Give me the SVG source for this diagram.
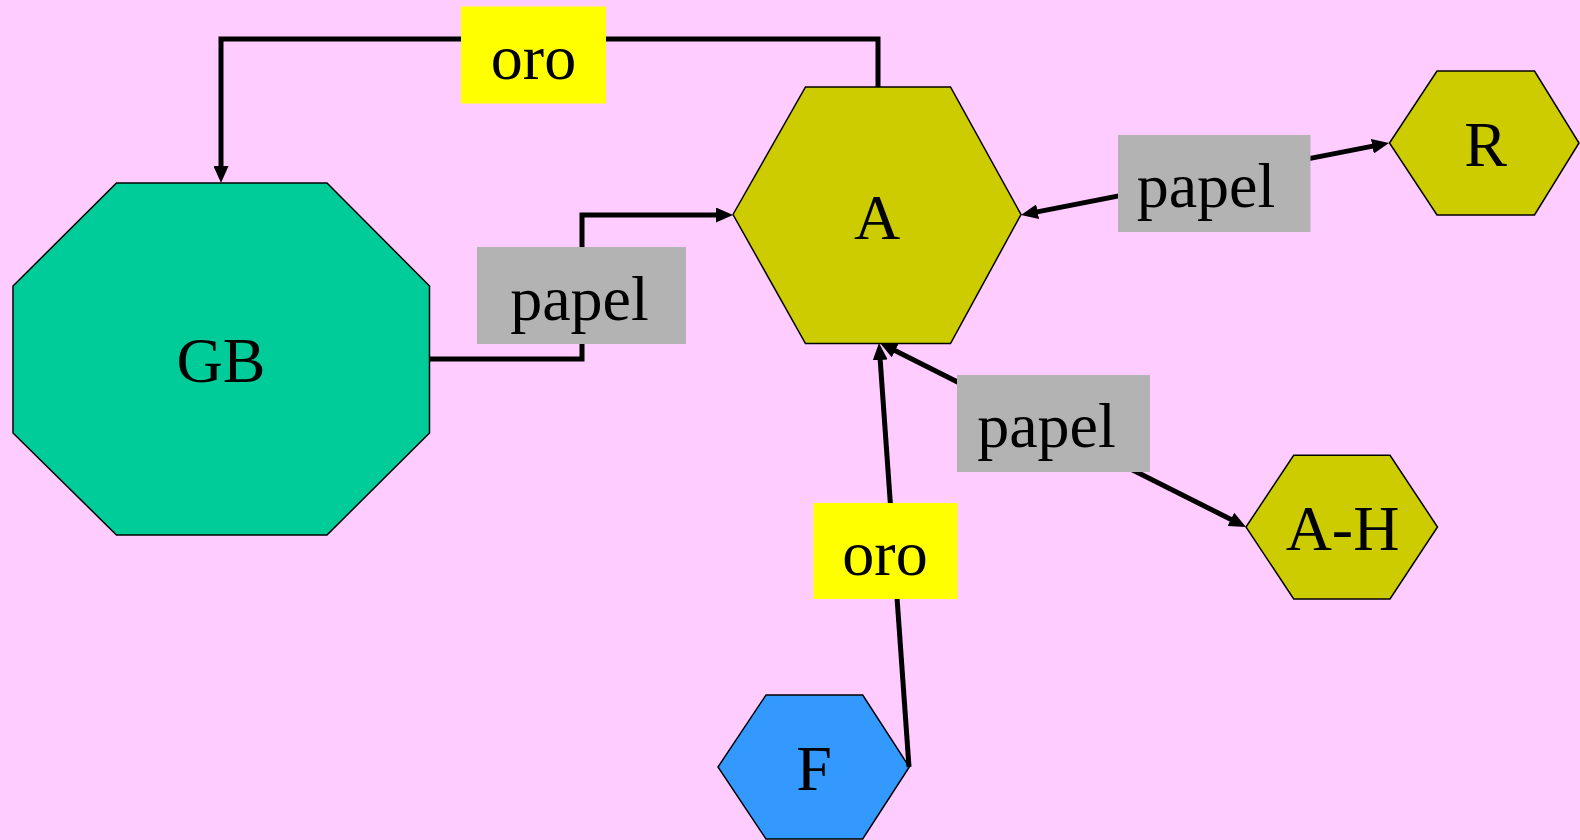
<svg xmlns="http://www.w3.org/2000/svg" width="1580" height="840" viewBox="0 0 1580 840">
  <style>
    .node { stroke: #000; stroke-width: 1.5; }
    .txt { font-family: "Liberation Serif", "Times New Roman", serif; font-size: 64px; fill: #000; text-anchor: middle; }
    .edge { fill: none; stroke: #000; stroke-width: 5; }
    .lbl-oro { fill: #FFFF00; }
    .lbl-papel { fill: #B3B3B3; }
  </style>
  <defs>
    <marker id="arrow" markerUnits="userSpaceOnUse" viewBox="0 0 17 15" markerWidth="17" markerHeight="15" refX="7" refY="7.5" orient="auto-start-reverse">
      <path d="M0,0 L17,7.5 L0,15 Z" fill="#000"/>
    </marker>
  </defs>

  <rect width="1580" height="840" fill="#FFCCFF"/>

  <!-- nodes -->
  <g id="node-GB">
    <polygon class="node" fill="#00CC99" points="116.5,183 327,183 429.5,286 429.5,433 327,535 116.5,535 13,433 13,286"/>
    <text class="txt" x="221" y="382">GB</text>
  </g>
  <g id="node-A">
    <polygon class="node" fill="#CCCC00" points="733,214.5 805.5,87 950.5,87 1021,214.5 950.5,343.5 805.5,343.5"/>
    <text class="txt" x="877" y="238.5">A</text>
  </g>
  <g id="node-R">
    <polygon class="node" fill="#CCCC00" points="1389.5,143 1437,71 1534.5,71 1579,143 1534.5,215 1437,215"/>
    <text class="txt" x="1485.5" y="166">R</text>
  </g>
  <g id="node-AH">
    <polygon class="node" fill="#CCCC00" points="1246,527 1293.7,455.3 1390,455.3 1437.5,527 1390,599 1293.7,599"/>
    <text class="txt" x="1342.5" y="550">A-H</text>
  </g>
  <g id="node-F">
    <polygon class="node" fill="#3399FF" points="718,767 766,695 862.7,695 909.3,767 862.7,839 766,839"/>
    <text class="txt" x="814" y="790">F</text>
  </g>

  <!-- connectors -->
  <g id="connectors">
    <path class="edge" d="M878,87 V39 H221 V173" marker-end="url(#arrow)"/>
    <path class="edge" d="M429.5,359 H582 V215 H723" marker-end="url(#arrow)"/>
    <path class="edge" d="M1030.8,213.1 L1379.2,144.9" marker-start="url(#arrow)" marker-end="url(#arrow)"/>
    <path class="edge" d="M888.9,347.5 L1237.1,522.5" marker-start="url(#arrow)" marker-end="url(#arrow)"/>
    <path class="edge" d="M909,767 L879.7,353" marker-end="url(#arrow)"/>
  </g>

  <!-- connector labels -->
  <g id="label-oro-top">
    <rect class="lbl-oro" x="461" y="6.5" width="145" height="97"/>
    <text class="txt" x="533.5" y="78.5">oro</text>
  </g>
  <g id="label-papel-left">
    <rect class="lbl-papel" x="477" y="247" width="209" height="97"/>
    <text class="txt" x="579.5" y="320">papel</text>
  </g>
  <g id="label-papel-right">
    <rect class="lbl-papel" x="1118" y="135" width="192.5" height="97"/>
    <text class="txt" x="1206" y="206.5">papel</text>
  </g>
  <g id="label-papel-lower">
    <rect class="lbl-papel" x="957" y="375" width="193" height="97"/>
    <text class="txt" x="1046.5" y="446.5">papel</text>
  </g>
  <g id="label-oro-lower">
    <rect class="lbl-oro" x="813.5" y="503" width="144" height="96"/>
    <text class="txt" x="885" y="575">oro</text>
  </g>
</svg>
